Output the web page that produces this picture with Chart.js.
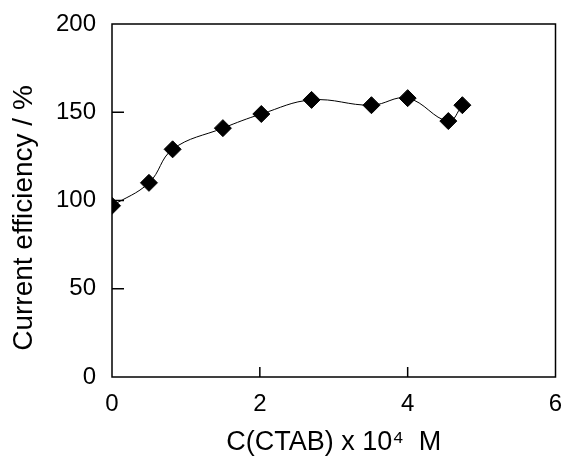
<!DOCTYPE html>
<html>
<head>
<meta charset="utf-8">
<script src="https://cdn.jsdelivr.net/npm/chart.js@4/dist/chart.umd.min.js"></script>
<style>
  html, body { margin: 0; padding: 0; background: #fff; }
  #wrap { width: 565px; height: 459px; }
</style>
</head>
<body>
<div id="wrap"><canvas id="myChart"></canvas></div>
<script>
const ctx = document.getElementById('myChart')

// CTAB concentration (x 10^4 M) and current efficiency (%)
const conc = [0, 0.5, 0.82, 1.5, 2.02, 2.7, 3.51, 4.0, 4.55, 4.74]
const efficiency = [97, 110, 129, 141, 149, 157, 154, 158, 145, 154]
const xTicks = [0, 2, 4, 6]
const yTicks = [0, 50, 100, 150, 200]
const yTitle = 'Current efficiency / %'

const points = conc.map((c, i) => ({x: c, y: efficiency[i]}))

// frame on top/right, short inward tick marks, y title
const frame = {
  id: 'frame',
  afterDatasetsDraw(chart) {
    const {ctx, chartArea: a, scales: {x, y}} = chart
    ctx.save()
    ctx.strokeStyle = '#000'
    ctx.lineWidth = 1.5
    ctx.strokeRect(a.left, a.top, a.right - a.left, a.bottom - a.top)
    ctx.beginPath()
    xTicks.slice(1, -1).forEach(v => {
      const px = x.getPixelForValue(v)
      ctx.moveTo(px, a.bottom)
      ctx.lineTo(px, a.bottom - 10)
    })
    yTicks.slice(1, -1).forEach(v => {
      const py = y.getPixelForValue(v)
      ctx.moveTo(a.left, py)
      ctx.lineTo(a.left + 12, py)
    })
    ctx.stroke()

    ctx.translate(24, 218)
    ctx.rotate(-Math.PI / 2)
    ctx.fillStyle = '#000'
    ctx.font = '28px "Liberation Sans"'
    ctx.textAlign = 'center'
    ctx.textBaseline = 'middle'
    ctx.fillText(yTitle, 0, 0)
    ctx.restore()
  }
}

new Chart(ctx, {
  type: 'line',
  data: {
    datasets: [{
      data: points,
      borderColor: '#000',
      borderWidth: 1,
      tension: 0.4,
      pointStyle: 'rectRot',
      pointRadius: 8.5,
      pointBackgroundColor: '#000',
      pointBorderColor: '#000',
      pointBorderWidth: 1
    }]
  },
  options: {
    responsive: true,
    maintainAspectRatio: false,
    animation: false,
    layout: {padding: {top: 24, right: 8, left: 0, bottom: 0}},
    plugins: {legend: {display: false}, tooltip: {enabled: false}},
    scales: {
      x: {
        type: 'linear',
        min: 0,
        max: 6,
        afterBuildTicks: s => { s.ticks = xTicks.map(v => ({value: v})) },
        afterFit: s => { s.height = 82; s.paddingLeft = 0; s.paddingRight = 0 },
        grid: {display: false, drawTicks: false},
        border: {display: false},
        ticks: {color: '#000', padding: 13, font: {family: 'Liberation Sans', size: 24}},
        title: {
          display: true,
          text: 'C(CTAB) x 10\u2074  M',
          color: '#000',
          padding: {top: 0, bottom: 0},
          font: {family: 'Liberation Sans', size: 27}
        }
      },
      y: {
        min: 0,
        max: 200,
        afterBuildTicks: s => { s.ticks = yTicks.map(v => ({value: v})) },
        afterFit: s => { s.width = 112; s.paddingTop = 0; s.paddingBottom = 0 },
        grid: {display: false, drawTicks: false},
        border: {display: false},
        ticks: {color: '#000', padding: 16, font: {family: 'Liberation Sans', size: 24}}
      }
    }
  },
  plugins: [frame]
})
</script>
</body>
</html>
